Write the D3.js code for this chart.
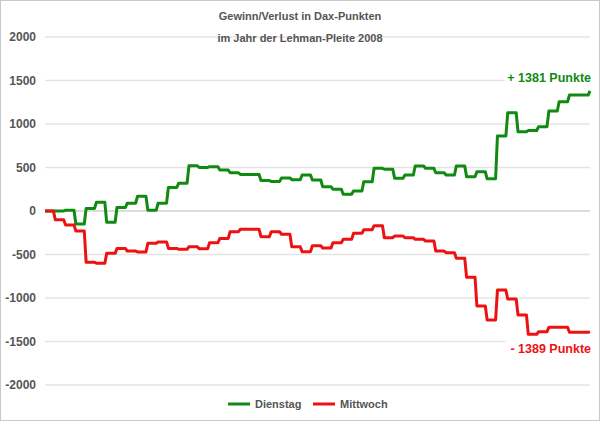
<!DOCTYPE html><html><head><meta charset="utf-8"><script src="https://cdn.jsdelivr.net/npm/d3@7"></script>
<style>body{margin:0;background:#fff}svg{font-family:Arial,"Liberation Sans",sans-serif}</style></head><body><svg id="c" width="600" height="421"></svg><script>
const titleLines=["Gewinn/Verlust in Dax-Punkten","im Jahr der Lehman-Pleite 2008"];
const yTicks=[-2000,-1500,-1000,-500,0,500,1000,1500,2000];
const seriesNames=["Dienstag","Mittwoch"];
const dienstag=[0,0,10,-150,30,100,-130,40,90,170,10,90,270,320,520,500,510,470,440,420,420,350,340,380,360,414,356,280,250,192,230,337,490,480,376,414,517,490,440,414,517,395,450,370,862,1130,911,925,969,1150,1256,1333,1333];
const mittwoch=[0,-100,-160,-230,-590,-600,-487,-430,-460,-470,-372,-355,-430,-440,-410,-435,-365,-315,-238,-210,-210,-295,-238,-268,-410,-467,-398,-425,-364,-326,-257,-215,-169,-307,-287,-307,-326,-345,-460,-479,-544,-762,-1092,-1253,-908,-1011,-1195,-1417,-1387,-1337,-1337,-1394,-1394];
const finals=[1381,-1389];
const labels=["+ 1381 Punkte","- 1389 Punkte"];
const colors=["#108a10","#ee1111"];
const svg=d3.select("#c");
svg.append("rect").attr("x",0.5).attr("y",0.5).attr("width",599).attr("height",420).attr("fill","#fff").attr("stroke","#c8c8c8");
const x=d3.scaleLinear().domain([0,dienstag.length]).range([45,590]);
const y=d3.scaleLinear().domain([-2000,2000]).range([385,37]);
svg.append("g").selectAll("line").data(yTicks).join("line").attr("x1",45).attr("x2",590).attr("y1",d=>y(d)).attr("y2",d=>y(d)).attr("stroke",d=>d===0?"#d0d0d0":"#e4e4e4").attr("stroke-width",1.5);
svg.append("g").selectAll("text").data(yTicks).join("text").attr("x",36).attr("y",d=>y(d)+4).attr("text-anchor","end").attr("font-size",12).attr("font-weight","bold").attr("fill","#555").text(d=>d);
titleLines.forEach((t,i)=>svg.append("text").attr("x",300).attr("y",20+i*22).attr("text-anchor","middle").attr("font-size",11).attr("font-weight","bold").attr("fill","#555").text(t));
function pts(arr,fin){const p=[];arr.forEach((v,i)=>{p.push([i,v]);p.push([i+0.82,v]);});p.push([arr.length,fin]);return p;}
const line=d3.line().x(d=>x(d[0])).y(d=>y(d[1]));
[dienstag,mittwoch].forEach((arr,k)=>{
svg.append("path").attr("d",line(pts(arr,finals[k]))).attr("fill","none").attr("stroke",colors[k]).attr("stroke-width",3).attr("stroke-linejoin","round");
});
[[0,y(1500)+1],[1,y(-1500)+11]].forEach(([k,yy])=>{
svg.append("rect").attr("x",505).attr("y",yy-12).attr("width",90).attr("height",16).attr("fill","#fff");
svg.append("text").attr("x",591).attr("y",yy).attr("text-anchor","end").attr("font-size",12.5).attr("font-weight","bold").attr("fill",colors[k]).text(labels[k]);
});
const lg=svg.append("g");
[[228,0],[313,1]].forEach(([lx,k])=>{
lg.append("line").attr("x1",lx).attr("x2",lx+22).attr("y1",404).attr("y2",404).attr("stroke",colors[k]).attr("stroke-width",3);
lg.append("text").attr("x",lx+27).attr("y",408).attr("font-size",11).attr("font-weight","bold").attr("fill","#555").text(seriesNames[k]);
});
</script></body></html>
